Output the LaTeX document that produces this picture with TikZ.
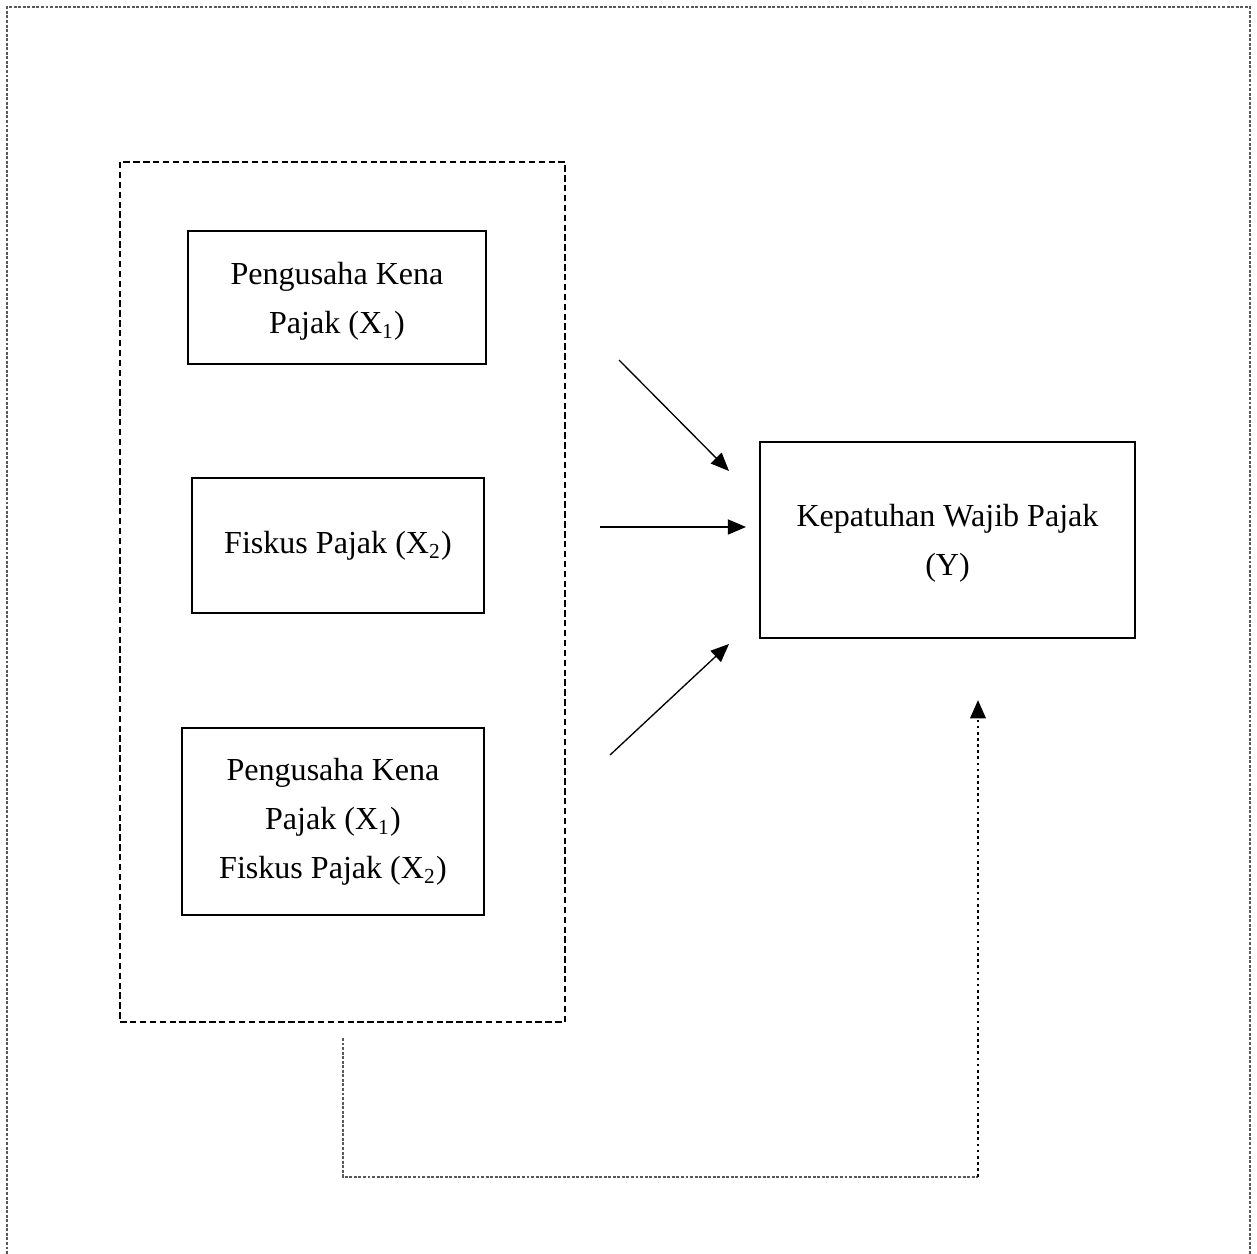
\documentclass[tikz,border=0pt]{standalone}
\usepackage{fontspec}
\setmainfont{Liberation Serif}
\usepackage{tikz}
\usetikzlibrary{arrows.meta, calc}

\tikzset{
  varbox/.style={draw=black, line width=0.75pt, align=center, inner sep=0pt,
    font=\fontsize{12pt}{18.4pt}\selectfont},
  linkarrow/.style={-{Triangle[length=0.24cm, width=0.2cm]}, line width=0.5pt},
  greydash/.style={draw=black!65, line width=0.45pt, dash pattern=on 1.1pt off 0.6pt},
}

\begin{document}
\begin{tikzpicture}[x=0.01316cm, y=-0.01316cm]
\useasboundingbox (0,0) rectangle (1257,1254);
% outer frame
\draw[greydash] (7,1254) -- (7,7) -- (1250,7) -- (1250,1254);
% group of independent variables
\draw[black, line width = 0.8pt, dash pattern=on 2.4pt off 1.3pt] (120,162) rectangle (565,1022);
\node[varbox, minimum width=3.91cm, minimum height=1.76cm, text depth=-4pt] (pkp) at (337,297.5) {Pengusaha Kena\\Pajak (X\textsubscript{1})};
\node[varbox, minimum width=3.83cm, minimum height=1.78cm] (fiskus) at (338,545.5) {Fiskus Pajak (X\textsubscript{2})};
\node[varbox, minimum width=3.96cm, minimum height=2.47cm] (both) at (333,821.5) {Pengusaha Kena\\Pajak (X\textsubscript{1})\\Fiskus Pajak (X\textsubscript{2})};
\node[varbox, minimum width=4.92cm, minimum height=2.59cm, text depth=-6pt] (kepatuhan) at (947.5,540) {Kepatuhan Wajib Pajak\\(Y)};
% partial effects
\coordinate (a1) at (619,360);
\coordinate (b1) at (729,471);
\coordinate (a2) at (600,527);
\coordinate (b2) at (746,527);
\coordinate (a3) at (610,755);
\coordinate (b3) at (729,644);
\draw[linkarrow] (a1) -- (b1);
\draw[linkarrow] (a2) -- (b2);
\draw[linkarrow] (a3) -- (b3);
% simultaneous effect
\coordinate (s1) at (343,1038);
\coordinate (s2) at (343,1177);
\coordinate (s3) at (978,1177);
\coordinate (s4) at (978,700);
\draw[greydash] (s1) -- (s2) -- (s3);
\draw[-{Triangle[length=0.24cm, width=0.2cm]}, line width=1pt, dash pattern=on 1pt off 1.3pt] (s3) -- (s4);
\end{tikzpicture}
\end{document}
